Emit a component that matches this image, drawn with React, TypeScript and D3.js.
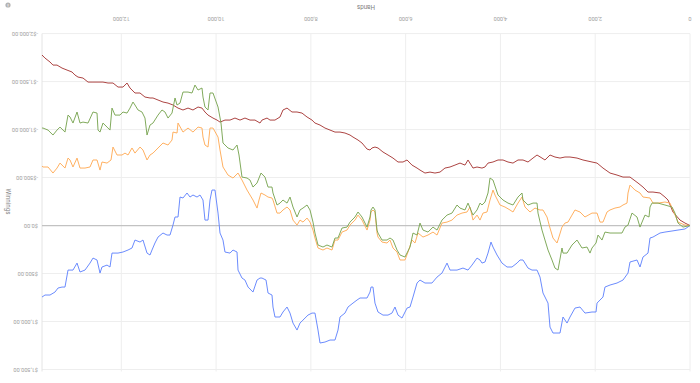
import React from "react";
import * as d3 from "d3";

const xTicks = [0, 2000, 4000, 6000, 8000, 10000, 12000];
const yTicks = [-2000, -1500, -1000, -500, 0, 500, 1000, 1500];
const maxHands = 13673;

const redData: [number, number][] = [
  [0,0],[106,-26],[211,-57],[359,-141],[464,-266],[528,-297],[633,-339],[781,-349],[886,-349],[992,-401],[1097,-443],[1266,-505],[1414,-505],[1540,-526],[1688,-547],[1836,-599],[1962,-651],[2068,-662],[2258,-683],[2384,-703],[2532,-714],[2638,-714],[2743,-703],[2849,-714],[2954,-735],[3060,-683],[3123,-703],[3228,-735],[3313,-703],[3418,-662],[3524,-683],[3629,-683],[3735,-651],[3840,-662],[3946,-683],[4051,-683],[4157,-662],[4262,-651],[4326,-610],[4389,-599],[4494,-610],[4579,-599],[4684,-683],[4748,-630],[4853,-651],[4959,-630],[5064,-610],[5170,-599],[5275,-557],[5381,-547],[5486,-557],[5592,-547],[5697,-578],[5760,-599],[5866,-630],[5971,-683],[6056,-662],[6161,-662],[6267,-703],[6372,-735],[6478,-766],[6583,-808],[6647,-818],[6710,-808],[6752,-787],[6815,-797],[6921,-860],[7005,-891],[7111,-922],[7174,-943],[7280,-964],[7385,-974],[7491,-974],[7596,-995],[7702,-1016],[7807,-1047],[7913,-1068],[7976,-1099],[8081,-1131],[8187,-1172],[8292,-1183],[8398,-1183],[8503,-1224],[8588,-1204],[8651,-1131],[8757,-1099],[8862,-1099],[8925,-1120],[9031,-1099],[9073,-1068],[9179,-1099],[9284,-1099],[9390,-1120],[9495,-1099],[9601,-1120],[9706,-1099],[9812,-1099],[9917,-1078],[9980,-1099],[10065,-1120],[10170,-1151],[10234,-1183],[10297,-1224],[10381,-1235],[10487,-1204],[10592,-1224],[10698,-1204],[10803,-1224],[10909,-1256],[11014,-1276],[11120,-1287],[11225,-1308],[11331,-1329],[11394,-1329],[11500,-1339],[11605,-1381],[11711,-1381],[11816,-1433],[11879,-1485],[11964,-1443],[12069,-1443],[12175,-1485],[12280,-1485],[12386,-1495],[12491,-1495],[12597,-1495],[12702,-1495],[12808,-1537],[12913,-1547],[12977,-1568],[13040,-1600],[13145,-1620],[13251,-1641],[13356,-1672],[13441,-1672],[13504,-1704],[13610,-1745],[13673,-1777]
];

const orangeData: [number, number][] = [
  [0,0],[106,-5],[253,-36],[359,-162],[422,-234],[528,-245],[675,-234],[781,-234],[844,-287],[992,-297],[1055,-339],[1161,-370],[1266,-422],[1308,-339],[1329,-234],[1414,-214],[1477,-193],[1583,-182],[1688,-162],[1751,-141],[1836,-36],[1899,-36],[1962,-130],[2068,-130],[2216,-89],[2321,-141],[2427,-162],[2490,-109],[2574,-36],[2638,-26],[2701,16],[2785,151],[2806,182],[2891,130],[2954,26],[3017,-89],[3102,-162],[3165,-162],[3271,-182],[3376,-141],[3482,-193],[3545,-297],[3629,-234],[3735,-141],[3798,-162],[3904,-193],[4009,-214],[4115,-318],[4157,-370],[4220,-266],[4283,-141],[4368,-130],[4431,-57],[4494,-109],[4579,-57],[4642,-193],[4705,-141],[4811,-130],[4916,-109],[5022,-57],[5127,-36],[5233,-26],[5338,99],[5423,68],[5528,99],[5634,120],[5739,78],[5803,182],[5866,151],[5950,276],[6014,359],[6119,359],[6182,276],[6267,234],[6330,151],[6393,182],[6499,172],[6583,120],[6604,78],[6647,-141],[6689,-162],[6731,-141],[6752,-57],[6815,47],[6921,-57],[7005,-109],[7069,-57],[7174,-5],[7237,47],[7343,68],[7427,151],[7491,151],[7554,255],[7660,234],[7744,255],[7849,234],[7913,130],[7955,47],[8018,-36],[8081,-78],[8166,-36],[8229,-57],[8292,-5],[8377,-57],[8440,-162],[8503,-193],[8588,-162],[8651,-130],[8714,-130],[8799,-266],[8820,-287],[8904,-297],[8968,-318],[9052,-339],[9094,-266],[9136,-182],[9221,-266],[9284,-318],[9347,-370],[9453,-474],[9537,-547],[9643,-495],[9748,-526],[9854,-610],[9917,-787],[9959,-922],[10065,-1016],[10128,-1016],[10170,-818],[10234,-839],[10276,-922],[10297,-1016],[10381,-1026],[10487,-974],[10592,-1016],[10698,-974],[10803,-1068],[10824,-964],[10909,-974],[10930,-891],[11014,-839],[11120,-860],[11225,-808],[11331,-755],[11394,-735],[11457,-683],[11542,-787],[11605,-818],[11711,-755],[11774,-808],[11858,-735],[11922,-755],[11985,-735],[12090,-735],[12175,-818],[12217,-683],[12301,-651],[12407,-662],[12449,-578],[12512,-683],[12597,-683],[12660,-610],[12766,-599],[12871,-599],[12934,-703],[13019,-610],[13082,-683],[13124,-703],[13188,-599],[13293,-651],[13356,-599],[13441,-547],[13546,-610],[13652,-610],[13673,-620]
];

const greenData: [number, number][] = [
  [0,0],[148,16],[253,-26],[317,-130],[380,-193],[528,-214],[675,-234],[802,-234],[844,-193],[865,-89],[950,-109],[1055,16],[1118,-89],[1224,-130],[1308,-5],[1372,16],[1435,78],[1540,78],[1688,78],[1794,68],[1857,151],[1941,99],[1983,182],[2068,234],[2110,287],[2173,224],[2279,234],[2384,151],[2490,203],[2595,287],[2680,287],[2701,234],[2785,464],[2849,443],[2912,359],[2996,255],[3060,151],[3123,47],[3207,-130],[3228,-234],[3313,-234],[3418,-214],[3524,-266],[3545,-339],[3629,-297],[3735,-214],[3840,-234],[3946,-266],[4051,-318],[4157,-474],[4220,-495],[4262,-339],[4326,-245],[4389,-214],[4431,-234],[4494,-162],[4579,-109],[4684,-234],[4748,-162],[4853,-182],[4916,-214],[5022,-130],[5127,-109],[5233,-57],[5338,47],[5423,16],[5528,68],[5634,47],[5697,-26],[5760,99],[5845,78],[5908,224],[6014,328],[6119,307],[6182,255],[6267,151],[6330,130],[6393,151],[6499,151],[6583,78],[6604,47],[6647,-162],[6689,-193],[6731,-162],[6752,-89],[6815,16],[6921,-89],[7005,-141],[7069,-89],[7174,-36],[7237,16],[7343,26],[7427,130],[7491,130],[7554,224],[7660,203],[7744,224],[7849,203],[7913,78],[7955,-36],[8018,-162],[8081,-214],[8166,-182],[8229,-162],[8292,-89],[8377,-193],[8440,-297],[8503,-234],[8588,-266],[8651,-234],[8714,-214],[8799,-339],[8820,-401],[8904,-401],[8968,-505],[9052,-547],[9136,-443],[9221,-401],[9284,-474],[9347,-495],[9453,-505],[9516,-735],[9558,-839],[9643,-787],[9748,-808],[9854,-860],[9896,-1068],[9959,-1235],[10065,-1381],[10128,-1381],[10170,-1204],[10234,-1235],[10276,-1339],[10297,-1433],[10381,-1412],[10445,-1464],[10508,-1381],[10592,-1391],[10698,-1391],[10761,-1276],[10824,-1256],[10866,-1329],[10930,-1172],[11014,-1120],[11078,-1183],[11141,-1204],[11225,-1151],[11331,-1068],[11394,-1047],[11457,-943],[11500,-1120],[11563,-1183],[11647,-1204],[11711,-1256],[11753,-1287],[11816,-1224],[11879,-1172],[11964,-1183],[12027,-1151],[12133,-1151],[12196,-1224],[12238,-995],[12301,-1026],[12386,-1068],[12449,-974],[12491,-995],[12512,-1172],[12597,-1183],[12702,-1068],[12808,-1078],[12871,-1068],[12934,-1183],[13019,-1068],[13082,-1131],[13124,-1151],[13188,-974],[13293,-1026],[13356,-995],[13441,-943],[13546,-995],[13652,-1016],[13673,-1016]
];

const blueData: [number, number][] = [
  [0,0],[106,36],[253,47],[380,57],[528,68],[633,78],[781,120],[844,130],[886,287],[992,328],[1055,432],[1118,359],[1266,380],[1308,495],[1414,568],[1540,599],[1688,620],[1794,641],[1836,745],[1899,776],[1962,808],[1983,901],[2068,901],[2216,912],[2321,849],[2427,860],[2532,953],[2595,1016],[2680,953],[2743,1120],[2891,1120],[2954,1058],[2996,808],[3102,703],[3165,537],[3228,464],[3334,464],[3418,443],[3524,359],[3587,359],[3650,391],[3756,432],[3861,432],[3967,391],[4072,307],[4157,224],[4199,172],[4262,287],[4326,380],[4389,391],[4431,359],[4494,339],[4600,412],[4684,464],[4790,443],[4916,464],[5064,464],[5127,391],[5233,495],[5338,537],[5444,599],[5592,599],[5697,568],[5760,599],[5845,745],[5908,849],[5971,860],[6077,964],[6161,933],[6225,849],[6288,912],[6372,933],[6478,933],[6583,901],[6647,808],[6689,641],[6731,641],[6752,693],[6815,755],[6963,755],[7026,776],[7111,808],[7216,849],[7280,912],[7385,953],[7427,1089],[7491,1193],[7596,1193],[7702,1214],[7807,1224],[7849,1089],[7913,912],[7976,912],[8060,933],[8166,985],[8229,1016],[8292,1089],[8377,1016],[8440,912],[8503,849],[8588,901],[8651,953],[8757,953],[8799,849],[8820,724],[8904,703],[8946,568],[9031,547],[9073,547],[9136,568],[9221,693],[9326,641],[9390,568],[9453,547],[9537,464],[9558,276],[9643,255],[9706,287],[9812,276],[9854,151],[9917,78],[9959,-130],[10023,-370],[10086,-370],[10128,-266],[10170,-57],[10234,-57],[10276,-266],[10339,-318],[10402,-297],[10487,-318],[10550,-297],[10613,-339],[10698,-287],[10761,-297],[10803,-89],[10866,-89],[10909,-5],[10972,99],[11035,99],[11120,78],[11225,120],[11289,182],[11352,255],[11394,307],[11457,287],[11542,151],[11605,172],[11711,151],[11774,234],[11858,255],[11964,276],[12069,287],[12196,287],[12238,432],[12301,412],[12407,432],[12449,495],[12512,359],[12597,339],[12660,391],[12766,464],[12871,484],[12934,391],[13019,464],[13124,464],[13188,641],[13251,641],[13335,651],[13399,693],[13504,724],[13610,724],[13673,745]
];

const series = [
  { name: "red", color: "#a83a38", data: redData },
  { name: "blue", color: "#6385fd", data: blueData },
  { name: "orange", color: "#ffac58", data: orangeData },
  { name: "green", color: "#7aa553", data: greenData },
];

const fmtX = d3.format(",");
const fmtY = (v: number) => (v < 0 ? "-$" : "$") + d3.format(",.2f")(Math.abs(v));

export default function App() {
  const W = 700, H = 383;
  const left = 10, right = 658, top = 13.5, bottom = 349.4;
  const x = d3.scaleLinear().domain([0, maxHands]).range([left, right]);
  const y = d3.scaleLinear().domain([-2000, 1500]).range([bottom, top]);
  const line = d3.line<[number, number]>().x(d => x(d[0])).y(d => y(d[1]));
  const font = "Roboto, 'Open Sans', Arial, sans-serif";
  return (
    <svg width={W} height={H} style={{ position: "absolute", left: 0, top: 0, background: "#fff" }} fontFamily={font}>
      <g transform={`rotate(180 ${W / 2} ${H / 2})`}>
        {yTicks.map(t => (
          <line key={"gy" + t} x1={left} x2={right} y1={y(t)} y2={y(t)} stroke="#eeeeee" strokeWidth={1} />
        ))}
        {xTicks.map(t => (
          <line key={"gx" + t} x1={x(t)} x2={x(t)} y1={y(1500) - 2} y2={y(-2000)} stroke="#eeeeee" strokeWidth={1} />
        ))}
        <line x1={right} x2={right} y1={y(1500) - 2} y2={y(-2000)} stroke="#e4e4e4" strokeWidth={1} />
        <line x1={left} x2={right} y1={y(0)} y2={y(0)} stroke="#c2c2c2" strokeWidth={1.3} />
        {series.map(s => (
          <path key={s.name} d={line(s.data) || ""} fill="none" stroke={s.color} strokeWidth={0.95} strokeLinejoin="round" />
        ))}
        {yTicks.map(t => (
          <text key={"ly" + t} x={right + 4} y={y(t)} dy="0.35em" fontSize={5.6} fill="#a0a0a0" textAnchor="start">{fmtY(t)}</text>
        ))}
        {xTicks.map(t => (
          <text key={"lx" + t} x={x(t)} y={364} dy="0.35em" fontSize={5.6} fill="#a0a0a0" textAnchor="middle">{fmtX(t)}</text>
        ))}
        <text x={(left + right) / 2} y={376} dy="0.35em" fontSize={6.3} fill="#808080" textAnchor="middle">Hands</text>
        <text transform={`translate(692 ${(top + bottom) / 2}) rotate(-90)`} dy="0.35em" fontSize={6.3} fill="#808080" textAnchor="middle">Winnings</text>
        <circle cx={692} cy={378} r={2.6} fill="#b4b4b4" />
        <text x={692} y={378} dy="0.35em" fontSize={4} fill="#fff" textAnchor="middle" fontWeight="bold">i</text>
      </g>
    </svg>
  );
}
